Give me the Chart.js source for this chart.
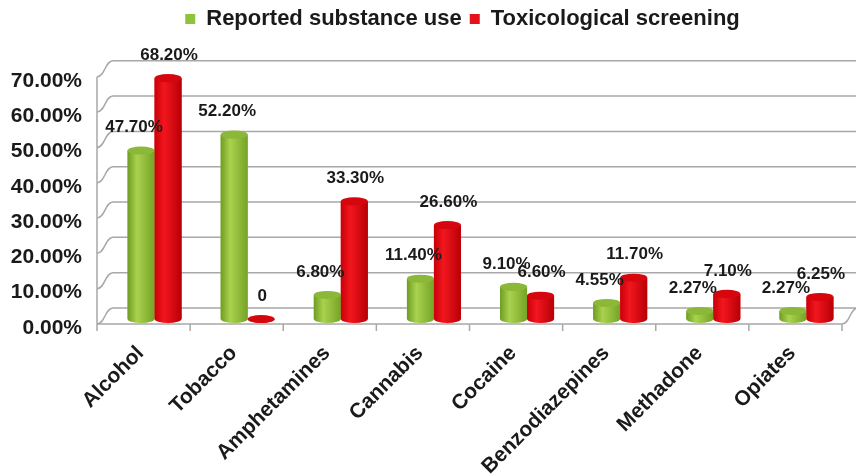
<!DOCTYPE html>
<html>
<head>
<meta charset="utf-8">
<script src="https://cdn.jsdelivr.net/npm/chart.js@4"></script>
<style>
  html, body { margin: 0; padding: 0; background: #fff; }
  #wrap { width: 856px; height: 475px; }
</style>
</head>
<body>
<div id="wrap"><canvas id="myChart"></canvas></div>
<script>
// categories and values (percent)
const substances = ['Alcohol', 'Tobacco', 'Amphetamines', 'Cannabis', 'Cocaine', 'Benzodiazepines', 'Methadone', 'Opiates'];
const reported = [47.7, 52.2, 6.8, 11.4, 9.1, 4.55, 2.27, 2.27];
const screening = [68.2, 0, 33.3, 26.6, 6.6, 11.7, 7.1, 6.25];
const yTicks = [0, 10, 20, 30, 40, 50, 60, 70];

const FONT = '"Liberation Sans", Arial, sans-serif';
const INK = '#1a1a1a';

// legend sits over the plot, not the whole canvas
const legendShift = {
  id: 'legendShift',
  afterLayout(chart) {
    chart.legend.left += 36;
    chart.legend.right += 36;
  }
};

// fake 3d box: left wall, back wall gridlines, floor
const frame3d = {
  id: 'frame3d',
  beforeDatasetsDraw(chart) {
    const {ctx, chartArea: a, scales: {x, y}} = chart;
    const fx = -11, fy = 5, bx = 5, by = -11;
    const y0 = y.getPixelForValue(0);
    ctx.save();
    ctx.strokeStyle = '#a8a8a8';
    ctx.lineWidth = 1.5;
    yTicks.forEach(v => {
      const py = y.getPixelForValue(v);
      ctx.beginPath();
      ctx.moveTo(a.left + fx, py + fy);
      ctx.bezierCurveTo(a.left + fx + 8, py + fy, a.left + bx - 8, py + by, a.left + bx, py + by);
      ctx.lineTo(a.right + bx, py + by);
      ctx.stroke();
    });
    // front axis + floor edge
    ctx.beginPath();
    ctx.moveTo(a.left + fx, y.getPixelForValue(70) + fy);
    ctx.lineTo(a.left + fx, y0 + fy);
    ctx.lineTo(a.right + fx, y0 + fy);
    ctx.bezierCurveTo(a.right + fx + 8, y0 + fy, a.right + bx - 8, y0 + by, a.right + bx, y0 + by);
    const n = substances.length;
    for (let i = 0; i <= n; i++) {
      const px = a.left + fx + i * a.width / n;
      ctx.moveTo(px, y0 + fy);
      ctx.lineTo(px, y0 + fy + 7);
    }
    ctx.stroke();
    ctx.restore();
  }
};

// paint each bar as a cylinder
const cylinders = {
  id: 'cylinders',
  afterDatasetsDraw(chart) {
    const ctx = chart.ctx;
    ctx.save();
    chart.data.datasets.forEach((ds, i) => {
      const shade = ds.shade;
      chart.getDatasetMeta(i).data.forEach(bar => {
        const {x, y, base, width} = bar.getProps(['x', 'y', 'base', 'width'], true);
        const rx = width / 2, ry = width * 0.15, l = x - rx, r = x + rx;
        const g = ctx.createLinearGradient(l, 0, r, 0);
        g.addColorStop(0, shade[0]);
        g.addColorStop(0.35, shade[1]);
        g.addColorStop(1, shade[2]);
        ctx.fillStyle = g;
        ctx.beginPath();
        ctx.moveTo(l, y);
        ctx.lineTo(l, base);
        ctx.ellipse(x, base, rx, ry, 0, Math.PI, 0, true);
        ctx.lineTo(r, y);
        ctx.closePath();
        ctx.fill();
        ctx.fillStyle = shade[3];
        ctx.beginPath();
        ctx.ellipse(x, y, rx, ry, 0, 0, Math.PI * 2);
        ctx.fill();
      });
    });
    ctx.restore();
  }
};

const valueLabels = {
  id: 'valueLabels',
  afterDatasetsDraw(chart) {
    const ctx = chart.ctx;
    ctx.save();
    ctx.font = 'bold 17px ' + FONT;
    ctx.fillStyle = INK;
    ctx.textAlign = 'center';
    ctx.textBaseline = 'middle';
    chart.data.datasets.forEach((ds, i) => {
      chart.getDatasetMeta(i).data.forEach((bar, j) => {
        const v = ds.data[j];
        const txt = v === 0 ? '0' : v.toFixed(2) + '%';
        ctx.fillText(txt, bar.x + ds.labelDx, bar.y - 23);
      });
    });
    ctx.restore();
  }
};

new Chart(document.getElementById('myChart'), {
  type: 'bar',
  data: {
    labels: substances,
    datasets: [{
      label: 'Reported substance use',
      data: reported,
      backgroundColor: '#8dc43c',
      shade: ['#6f9c22', '#a9d24e', '#76a326', '#8cb83a'],
      labelDx: -7
    }, {
      label: 'Toxicological screening',
      data: screening,
      backgroundColor: '#e5121a',
      shade: ['#c80008', '#f2161e', '#b80006', '#d6060e'],
      labelDx: 1
    }]
  },
  options: {
    responsive: true,
    maintainAspectRatio: false,
    animation: false,
    layout: { padding: { left: 0, right: 3, top: 0, bottom: 0 } },
    datasets: { bar: { categoryPercentage: 0.58, barPercentage: 1 } },
    plugins: {
      legend: {
        position: 'top',
        labels: {
          boxWidth: 10,
          boxHeight: 10,
          padding: 8,
          color: INK,
          font: { family: FONT, size: 22, weight: 'bold' }
        }
      },
      tooltip: { enabled: false }
    },
    scales: {
      x: {
        grid: { display: false },
        border: { display: false },
        ticks: {
          autoSkip: false,
          minRotation: 45,
          maxRotation: 45,
          labelOffset: -14,
          padding: 14,
          color: INK,
          font: { family: FONT, size: 21, weight: 'bold' }
        },
        afterFit: s => { s.height = 156; }
      },
      y: {
        min: 0,
        max: 79,
        grid: { display: false },
        border: { display: false },
        afterBuildTicks: s => { s.ticks = yTicks.map(v => ({ value: v })); },
        afterFit: s => { s.width = 108; },
        ticks: {
          padding: 18,
          labelOffset: 9,
          color: INK,
          font: { family: FONT, size: 21, weight: 'bold' },
          callback: v => v.toFixed(2) + '%'
        }
      }
    }
  },
  plugins: [legendShift, frame3d, cylinders, valueLabels]
});
</script>
</body>
</html>
